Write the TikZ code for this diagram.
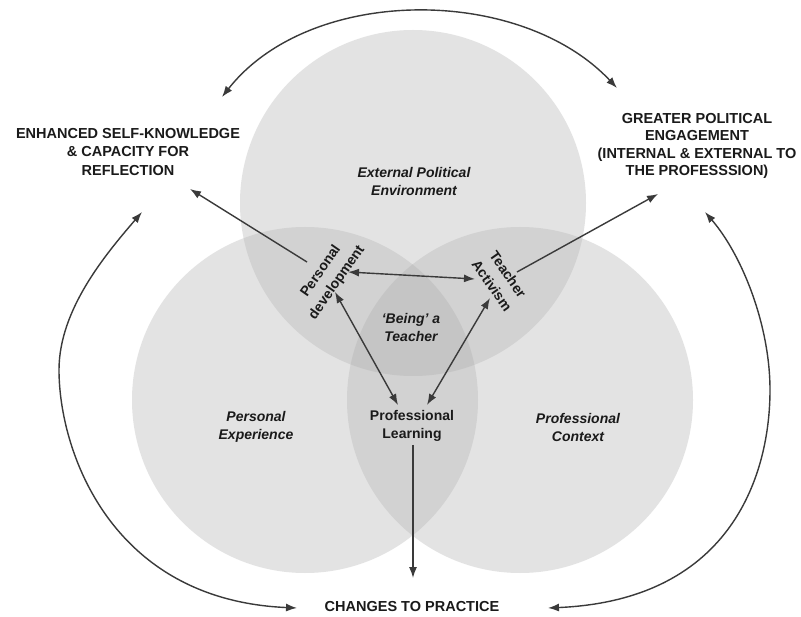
\documentclass[tikz,border=0pt]{standalone}
\usepackage{fontspec}
\setmainfont{Liberation Sans}
\usetikzlibrary{arrows.meta}
\definecolor{one}{HTML}{E3E3E3}
\definecolor{two}{HTML}{D2D2D2}
\definecolor{three}{HTML}{C5C5C5}
\definecolor{txt}{HTML}{1A1A1A}
\definecolor{arrc}{HTML}{3A3A3A}
\begin{document}
\begin{tikzpicture}[x=1pt,y=-1pt,
  lbl/.style={font=\bfseries\fontsize{14.5}{18.5}\selectfont, align=center, text=txt, inner sep=0pt},
  rlbl/.style={lbl, font=\bfseries\fontsize{14.5}{17.5}\selectfont},
  ilbl/.style={lbl, font=\bfseries\itshape\fontsize{14}{18}\selectfont},
  clbl/.style={lbl, font=\bfseries\fontsize{14}{18}\selectfont},
  rotlbl/.style={lbl, font=\bfseries\fontsize{14}{19.5}\selectfont},
  tip/.tip={Latex[length=11pt,width=8pt]},
  arr/.style={draw=arrc, line width=1.4pt, -tip},
  darr/.style={draw=arrc, line width=1.4pt, tip-tip}]
\useasboundingbox (0,0) rectangle (801,617);
\fill[white] (0,0) rectangle (801,617);
% circles
\coordinate (T) at (413,203);
\coordinate (L) at (305,400);
\coordinate (R) at (520,400);
\fill[one] (T) circle[radius=173pt] (L) circle[radius=173pt] (R) circle[radius=173pt];
\begin{scope}
  \clip (T) circle[radius=173pt];
  \fill[two] (L) circle[radius=173pt] (R) circle[radius=173pt];
\end{scope}
\begin{scope}
  \clip (L) circle[radius=173pt];
  \fill[two] (R) circle[radius=173pt];
\end{scope}
\begin{scope}
  \clip (T) circle[radius=173pt];
  \clip (L) circle[radius=173pt];
  \fill[three] (R) circle[radius=173pt];
\end{scope}
% texts
\node[lbl] (esk) at (128,152) {ENHANCED SELF-KNOWLEDGE\\\& CAPACITY FOR\\REFLECTION};
\node[rlbl] (gpe) at (697,146) {GREATER POLITICAL\\ENGAGEMENT\\(INTERNAL \& EXTERNAL TO\\THE PROFESSSION)};
\node[ilbl] (epe) at (414,181) {External Political\\Environment};
\node[rotlbl, rotate=55] (pd) at (329,277) {Personal\\development};
\node[rotlbl, rotate=-55] (ta) at (500,280) {Teacher\\Activism};
\node[ilbl] (bat) at (411,327) {‘Being’ a\\Teacher};
\node[clbl] (pl) at (412,426) {Professional\\Learning};
\node[ilbl] (pe) at (256,427) {Personal\\Experience};
\node[ilbl] (pc) at (578,427) {Professional\\Context};
\node[lbl] (ctp) at (412,607) {CHANGES TO PRACTICE};
% arrow end points
\coordinate (eskA) at (190,189);
\coordinate (pdA) at (307,262);
\coordinate (gpeA) at (658,194);
\coordinate (taA) at (517,272);
\coordinate (pdB) at (348,272);
\coordinate (taB) at (475,279);
\coordinate (pdC) at (335,292);
\coordinate (plL) at (398,405);
\coordinate (taC) at (490,298);
\coordinate (plR) at (427,405);
\coordinate (plB) at (413,445);
\coordinate (ctpT) at (413,578);
\coordinate (eskB) at (222,97);
\coordinate (gpeB) at (617,88);
\coordinate (eskC) at (142,212);
\coordinate (ctpL) at (297,608);
\coordinate (gpeC) at (705,212);
\coordinate (ctpR) at (548,608);
% arrows
\draw[arr] (pdA) -- (eskA);
\draw[arr] (taA) -- (gpeA);
\draw[darr] (pdB) -- (taB);
\draw[darr] (pdC) -- (plL);
\draw[darr] (taC) -- (plR);
\draw[arr] (plB) -- (ctpT);
\draw[darr] (eskB) .. controls (310,-15) and (520,-15) .. (gpeB);
\draw[darr] (eskC) .. controls (105,255) and (59,310) .. (59,370) .. controls (59,450) and (110,600) .. (ctpL);
\draw[darr] (gpeC) .. controls (742,255) and (770,325) .. (770,390) .. controls (770,470) and (735,600) .. (ctpR);
\end{tikzpicture}
\end{document}
